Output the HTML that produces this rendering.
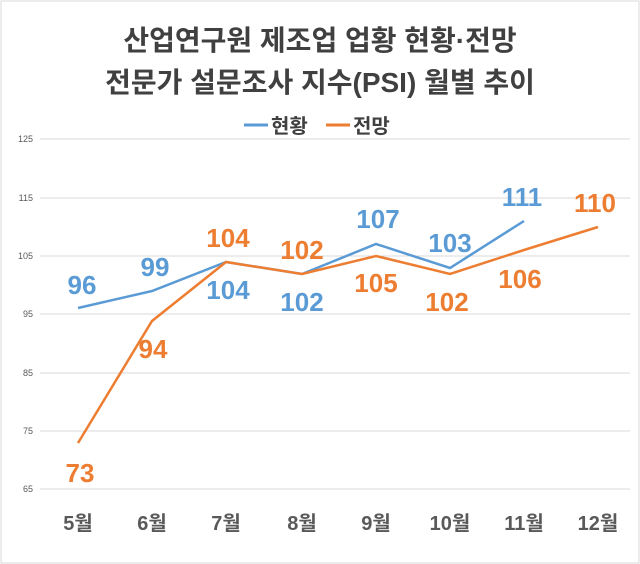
<!DOCTYPE html><html><head><meta charset="utf-8"><style>body{margin:0;background:#fff}svg{display:block}</style></head><body>
<svg width="640" height="564" xmlns="http://www.w3.org/2000/svg" font-family="'Liberation Sans','Noto Sans CJK KR',sans-serif">
<rect x="1" y="1" width="638" height="562" fill="#fff" stroke="#d9d9d9"/>
<text x="320" y="50" text-anchor="middle" font-size="28" font-weight="bold" fill="#404040">산업연구원 제조업 업황 현황·전망</text>
<text x="320" y="92" text-anchor="middle" font-size="28" font-weight="bold" fill="#404040">전문가 설문조사 지수(PSI) 월별 추이</text>
<line x1="244" y1="125" x2="268" y2="125" stroke="#5b9bd5" stroke-width="3"/>
<text x="271" y="133" font-size="20" font-weight="bold" fill="#404040">현황</text>
<line x1="326" y1="125" x2="350" y2="125" stroke="#ed7d31" stroke-width="3"/>
<text x="353" y="133" font-size="20" font-weight="bold" fill="#404040">전망</text>
<g stroke="#d9d9d9" stroke-width="1">
<line x1="40" y1="139" x2="630" y2="139"/><line x1="40" y1="198" x2="630" y2="198"/><line x1="40" y1="256" x2="630" y2="256"/><line x1="40" y1="314" x2="630" y2="314"/><line x1="40" y1="373" x2="630" y2="373"/><line x1="40" y1="431" x2="630" y2="431"/><line x1="40" y1="489" x2="630" y2="489"/></g>
<g font-size="9" fill="#595959" text-anchor="end">
<text x="33" y="142">125</text><text x="33" y="201">115</text><text x="33" y="259">105</text><text x="33" y="317">95</text><text x="33" y="376">85</text><text x="33" y="434">75</text><text x="33" y="492">65</text></g>
<polyline fill="none" stroke="#5b9bd5" stroke-width="2.5" points="78,308 152,291 226,262 302,274 376,244 450,268 524,221"/>
<polyline fill="none" stroke="#ed7d31" stroke-width="2.5" points="78,443 152,321 226,262 302,274 376,256 450,274 524,250 598,227"/>
<g font-size="26" font-weight="bold" text-anchor="middle" fill="#5b9bd5">
<text x="82" y="294">96</text><text x="155" y="276">99</text><text x="228" y="299">104</text><text x="302" y="311">102</text><text x="378" y="228">107</text><text x="450" y="252">103</text><text x="522" y="206">111</text></g>
<g font-size="26" font-weight="bold" text-anchor="middle" fill="#ed7d31">
<text x="80" y="482">73</text><text x="153" y="358">94</text><text x="228" y="247">104</text><text x="302" y="259">102</text><text x="376" y="292">105</text><text x="447" y="311">102</text><text x="520" y="288">106</text><text x="595" y="212">110</text></g>
<g font-size="20" font-weight="bold" text-anchor="middle" fill="#595959">
<text x="78" y="530">5월</text><text x="152" y="530">6월</text><text x="226" y="530">7월</text><text x="302" y="530">8월</text><text x="376" y="530">9월</text><text x="450" y="530">10월</text><text x="524" y="530">11월</text><text x="598" y="530">12월</text></g>
</svg></body></html>
